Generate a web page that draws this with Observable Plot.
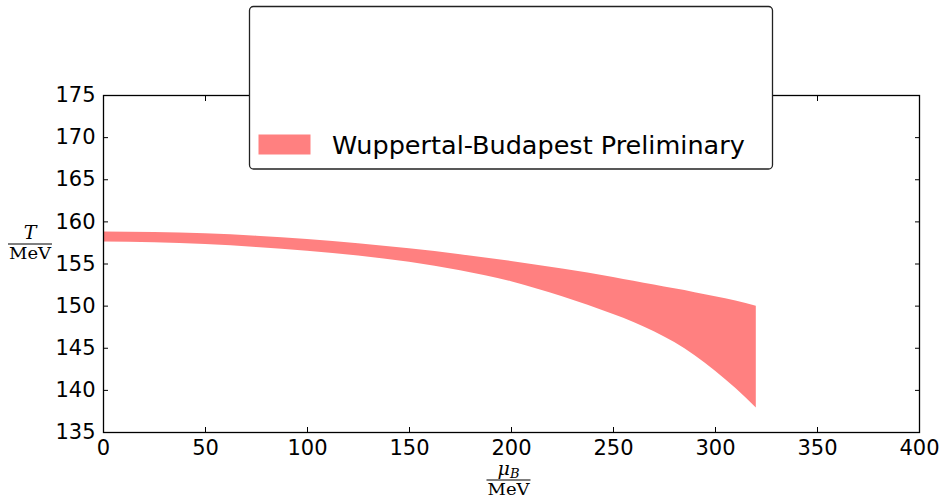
<!DOCTYPE html>
<html>
<head>
<meta charset="utf-8">
<script src="https://cdn.jsdelivr.net/npm/d3@7"></script>
<script src="https://cdn.jsdelivr.net/npm/@observablehq/plot@0.6"></script>
<style>
  html, body { margin: 0; padding: 0; background: #fff; }
  #chart svg { display: block; }
</style>
</head>
<body>
<div id="chart"></div>
<script>
// Baryon chemical potential (MeV) and the crossover temperature band (MeV)
const muB   = [0, 25, 50, 75, 100, 125, 150, 175, 200, 225, 250, 260, 270, 280, 290, 300, 310, 320];
const tHigh = [158.8, 158.75, 158.58, 158.3, 157.9, 157.4, 156.8, 156.1, 155.3, 154.4, 153.4, 152.95, 152.5, 152.05, 151.6, 151.1, 150.6, 150.0];
const tLow  = [157.6, 157.52, 157.3, 156.95, 156.5, 155.95, 155.2, 154.2, 152.9, 151.1, 149.0, 148.07, 146.97, 145.67, 144.12, 142.27, 140.22, 137.92];

const xTicks = [0, 50, 100, 150, 200, 250, 300, 350, 400];
const yTicks = [135, 140, 145, 150, 155, 160, 165, 170, 175];

const seriesName = "Wuppertal-Budapest Preliminary";
const bandColor = "#ff8080";

const band = muB.map((m, i) => ({mu: m, lo: tLow[i], hi: tHigh[i]}));

const W = 942, H = 498;

const chart = Plot.plot({
  width: W,
  height: H,
  marginLeft: 103,
  marginRight: 23,
  marginTop: 95,
  marginBottom: 66,
  style: {fontFamily: "DejaVu Sans, sans-serif", fontSize: "21px", color: "#000", background: "#fff"},
  x: {domain: [0, 400], label: null},
  y: {domain: [135, 175], label: null},
  marks: [
    Plot.areaY(band, {x: "mu", y1: "lo", y2: "hi", fill: bandColor, curve: "monotone-x"}),
    // inward ticks on all four sides
    Plot.axisX(xTicks, {anchor: "bottom", tickSize: -5, text: null, label: null, strokeWidth: 1}),
    Plot.axisX(xTicks, {anchor: "top", tickSize: -5, text: null, label: null, strokeWidth: 1}),
    Plot.axisY(yTicks, {anchor: "left", tickSize: -5, text: null, label: null, strokeWidth: 1}),
    Plot.axisY(yTicks, {anchor: "right", tickSize: -5, text: null, label: null, strokeWidth: 1}),
    // tick labels
    Plot.axisX(xTicks, {anchor: "bottom", tickSize: 0, tickPadding: 8, label: null, fill: "#000"}),
    Plot.axisY(yTicks, {anchor: "left", tickSize: 0, tickPadding: 8, label: null, fill: "#000"}),
    Plot.frame({stroke: "#000", strokeWidth: 1.3})
  ]
});

document.getElementById("chart").appendChild(chart);

const svg = d3.select(chart);

// Legend box overlapping the top of the frame
const lg = svg.append("g").attr("class", "legend").attr("text-anchor", "start");
lg.append("rect")
  .attr("x", 249.5).attr("y", 6.5).attr("width", 523).attr("height", 162.5)
  .attr("rx", 4).attr("ry", 4)
  .attr("fill", "#fff").attr("stroke", "#222").attr("stroke-width", 1.3);
lg.append("rect")
  .attr("x", 258.5).attr("y", 134.5).attr("width", 52).attr("height", 20)
  .attr("fill", bandColor);
lg.append("text")
  .attr("x", 332).attr("y", 153.5)
  .attr("text-anchor", "start")
  .attr("font-family", "DejaVu Sans, sans-serif").attr("font-size", 25.5)
  .attr("fill", "#000")
  .text(seriesName);

// Axis titles as fractions: T / MeV and mu_B / MeV
const serif = "DejaVu Serif, Liberation Serif, serif";
function fraction(cx, lineY, top, topSub) {
  const g = svg.append("g").attr("font-family", serif).attr("fill", "#000");
  const t = g.append("text")
    .attr("x", cx).attr("y", lineY - 5)
    .attr("text-anchor", "middle")
    .attr("font-size", 19);
  t.append("tspan").attr("font-style", "italic").text(top);
  if (topSub) {
    t.append("tspan").attr("font-style", "italic").attr("font-size", 13).attr("dy", 3).text(topSub);
  }
  g.append("line")
    .attr("x1", cx - 22).attr("x2", cx + 22)
    .attr("y1", lineY).attr("y2", lineY)
    .attr("stroke", "#000").attr("stroke-width", 1.2);
  g.append("text")
    .attr("x", cx).attr("y", lineY + 15)
    .attr("text-anchor", "middle")
    .attr("font-size", 16)
    .attr("textLength", 42).attr("lengthAdjust", "spacingAndGlyphs")
    .text("MeV");
}
fraction(30, 244, "T");
fraction(508.5, 480, "μ", "B");
</script>
</body>
</html>
